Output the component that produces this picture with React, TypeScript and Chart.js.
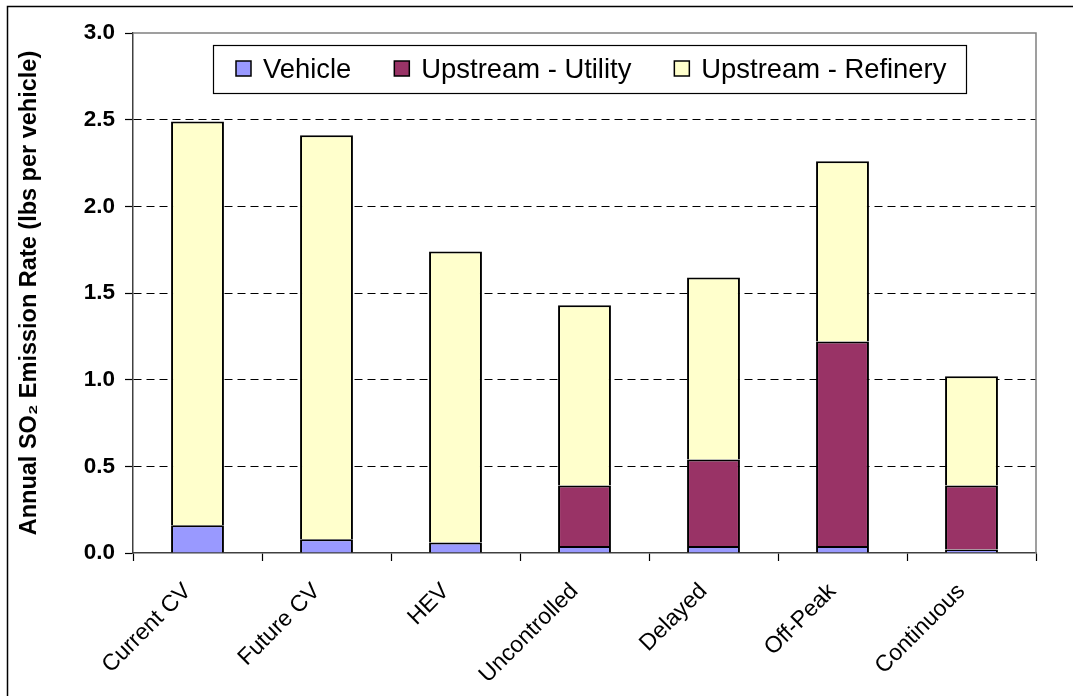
import React, { useEffect, useRef } from 'react';
import { Chart, registerables } from 'chart.js';

Chart.register(...registerables);

// ---- data ----
const categories = ['Current CV', 'Future CV', 'HEV', 'Uncontrolled', 'Delayed', 'Off-Peak', 'Continuous'];
const vehicle = [0.16, 0.08, 0.06, 0.04, 0.04, 0.04, 0.02];
const utility = [0, 0, 0, 0.35, 0.5, 1.18, 0.37];
const refinery = [2.33, 2.33, 1.68, 1.04, 1.05, 1.04, 0.63];
const seriesNames = ['Vehicle', 'Upstream - Utility', 'Upstream - Refinery'];
const seriesColors = ['#9999FF', '#993366', '#FFFFCC'];
const yTickLabels = ['0.0', '0.5', '1.0', '1.5', '2.0', '2.5', '3.0'];
const yTitle = 'Annual SO\u2082 Emission Rate (lbs per vehicle)';

const FONT = '"Liberation Sans", Arial, sans-serif';
const W = 1073;
const H = 696;

const framePlugin = {
  id: 'frame',
  beforeDraw(chart: any) {
    const ctx = chart.ctx;
    ctx.save();
    ctx.fillStyle = '#ffffff';
    ctx.fillRect(0, 0, chart.width, chart.height);
    ctx.restore();
  },
  afterDraw(chart: any) {
    const ctx = chart.ctx;
    const { left, right, top, bottom } = chart.chartArea;
    ctx.save();
    // plot area top/right border (gray)
    ctx.strokeStyle = '#808080';
    ctx.lineWidth = 1.5;
    ctx.beginPath();
    ctx.moveTo(left, top);
    ctx.lineTo(right, top);
    ctx.lineTo(right, bottom);
    ctx.stroke();

    // outer chart border
    ctx.strokeStyle = '#000000';
    ctx.lineWidth = 1.5;
    ctx.strokeRect(7.5, 6.5, 2000, 2000);

    // legend
    const bx = 213, by = 45, bw = 966 - 213, bh = 93 - 45;
    ctx.fillStyle = '#ffffff';
    ctx.fillRect(bx, by, bw, bh);
    ctx.strokeStyle = '#000000';
    ctx.lineWidth = 1.2;
    ctx.strokeRect(bx + 0.5, by + 0.5, bw, bh);
    ctx.font = `27.4px ${FONT}`;
    ctx.textBaseline = 'middle';
    ctx.textAlign = 'left';
    let x = 236;
    const cy = 69;
    seriesNames.forEach((name, i) => {
      ctx.fillStyle = seriesColors[i];
      ctx.fillRect(x, cy - 8, 15, 15);
      ctx.strokeStyle = '#000000';
      ctx.lineWidth = 1.5;
      ctx.strokeRect(x, cy - 8, 15, 15);
      ctx.fillStyle = '#000000';
      ctx.fillText(name, x + 27, cy + 1);
      const tw = ctx.measureText(name).width;
      x = x + 27 + tw + 43;
    });
    ctx.restore();
  },
};

export default function App() {
  const ref = useRef<HTMLCanvasElement | null>(null);

  useEffect(() => {
    if (!ref.current) return;
    const datasets = [vehicle, utility, refinery].map((d, i) => ({
      label: seriesNames[i],
      data: d,
      backgroundColor: seriesColors[i],
      borderColor: '#000000',
      borderWidth: 2,
      barPercentage: 0.41,
      categoryPercentage: 1,
    }));
    const chart = new Chart(ref.current, {
      type: 'bar',
      data: { labels: categories, datasets },
      plugins: [framePlugin],
      options: {
        animation: false,
        responsive: false,
        devicePixelRatio: 1,
        layout: { padding: { left: 0, right: W - 1036, top: 33, bottom: 0 } },
        plugins: {
          legend: { display: false },
          tooltip: { enabled: false },
        },
        scales: {
          x: {
            stacked: true,
            afterFit: (s: any) => { s.height = H - 553; },
            grid: {
              display: true,
              offset: true,
              drawOnChartArea: false,
              drawTicks: true,
              tickLength: 8,
              tickColor: '#000000',
              tickWidth: 1.2,
            },
            border: { display: true, color: '#404040', width: 1.5 },
            ticks: {
              autoSkip: false,
              minRotation: 45,
              maxRotation: 45,
              padding: 17,
              labelOffset: -10,
              color: '#000000',
              font: { family: FONT, size: 23 },
            },
          },
          y: {
            stacked: true,
            min: 0,
            max: 3,
            afterFit: (s: any) => { s.width = 133; },
            grid: {
              display: true,
              drawTicks: true,
              tickLength: 8,
              tickColor: '#000000',
              tickWidth: 1.2,
              lineWidth: 1,
              color: (c: any) => {
                const v = c.tick ? c.tick.value : null;
                return v === 0 || v === 3 ? 'rgba(0,0,0,0)' : '#000000';
              },
            },
            border: { display: true, color: '#404040', width: 1.5, dash: [8, 5] },
            ticks: {
              stepSize: 0.5,
              padding: 10,
              color: '#000000',
              font: { family: FONT, size: 22.5, weight: 'bold' },
              callback: (v: any) => yTickLabels[Math.round(Number(v) / 0.5)],
            },
            title: {
              display: true,
              text: yTitle,
              color: '#000000',
              font: { family: FONT, size: 23.5, weight: 'bold' },
              padding: { top: 15, bottom: 0 },
            },
          },
        },
      },
    });
    return () => chart.destroy();
  }, []);

  return (
    <div style={{ position: 'absolute', left: 0, top: 0, width: W, height: H, background: '#fff' }}>
      <canvas ref={ref} width={W} height={H} style={{ display: 'block', width: W, height: H }} />
    </div>
  );
}
